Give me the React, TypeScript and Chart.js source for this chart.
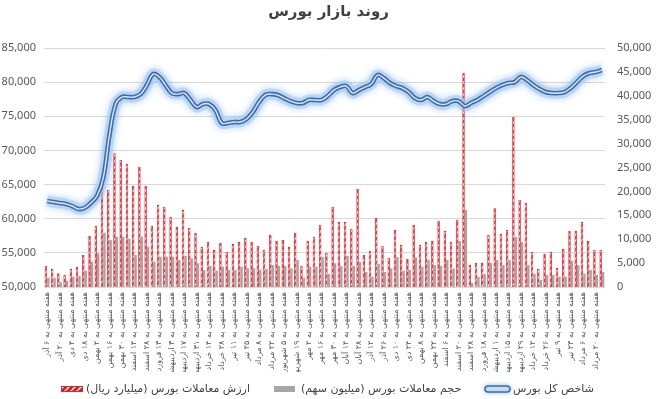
import React, { useEffect, useRef } from 'react';
import { Chart, registerables } from 'chart.js';

Chart.register(...registerables);

const W = 657;
const H = 399;

const chartTitle = 'روند بازار بورس';

// every other week is labelled on the axis
const weekLabels = [
  'هفته منتهی به ۶ آذر', 'هفته منتهی به ۲۰ آذر', 'هفته منتهی به ۴ دی', 'هفته منتهی به ۱۸ دی',
  'هفته منتهی به ۲ بهمن', 'هفته منتهی به ۱۶ بهمن', 'هفته منتهی به ۳۰ بهمن', 'هفته منتهی به ۱۴ اسفند',
  'هفته منتهی به ۲۸ اسفند', 'هفته منتهی به ۱۳ فروردین', 'هفته منتهی به ۳ اردیبهشت', 'هفته منتهی به ۱۷ اردیبهشت',
  'هفته منتهی به ۳۱ اردیبهشت', 'هفته منتهی به ۱۴ خرداد', 'هفته منتهی به ۲۸ خرداد', 'هفته منتهی به ۱۱ تیر',
  'هفته منتهی به ۲۵ تیر', 'هفته منتهی به ۸ مرداد', 'هفته منتهی به ۲۲ مرداد', 'هفته منتهی به ۵ شهریور',
  'هفته منتهی به ۱۹ شهریور', 'هفته منتهی به ۲ مهر', 'هفته منتهی به ۱۶ مهر', 'هفته منتهی به ۳۰ مهر',
  'هفته منتهی به ۱۴ آبان', 'هفته منتهی به ۲۸ آبان', 'هفته منتهی به ۱۲ آذر', 'هفته منتهی به ۲۶ آذر',
  'هفته منتهی به ۱۰ دی', 'هفته منتهی به ۲۴ دی', 'هفته منتهی به ۸ بهمن', 'هفته منتهی به ۲۲ بهمن',
  'هفته منتهی به ۶ اسفند', 'هفته منتهی به ۲۰ اسفند', 'هفته منتهی به ۲۸ اسفند', 'هفته منتهی به ۱۸ فروردین',
  'هفته منتهی به ۱ اردیبهشت', 'هفته منتهی به ۱۵ اردیبهشت', 'هفته منتهی به ۲۹ اردیبهشت', 'هفته منتهی به ۱۲ خرداد',
  'هفته منتهی به ۲۶ خرداد', 'هفته منتهی به ۹ تیر', 'هفته منتهی به ۲۳ تیر', 'هفته منتهی به ۶ مرداد',
  'هفته منتهی به ۲۰ مرداد',
];

// ارزش معاملات بورس (میلیارد ریال)
const tradeValue = [
  4390, 3770, 2870, 2510, 3770, 4180, 6690, 10670, 12760, 21550,
  20290, 27970, 26570, 25730, 21130, 25170, 21130, 12760, 17150, 16740,
  14640, 12550, 16110, 12340, 11300, 8370, 9410, 7740, 9200, 7320,
  9000, 9410, 10250, 9410, 8580, 7740, 10880, 9620, 9830, 8370,
  11300, 4390, 9620, 10460, 12970, 7110, 16740, 13600, 13600, 12130,
  20500, 6690, 7530, 14430, 8580, 6070, 11920, 8790, 5860, 12970,
  8790, 9410, 9620, 13810, 11720, 9410, 14020, 44770, 4600, 5020,
  5020, 10880, 16460, 11090, 11920, 35560, 18200, 17570, 7320, 3770,
  6900, 7320, 3970, 7950, 11720, 11720, 13600, 9620, 7740, 7740,
];

// حجم معاملات بورس (میلیون سهم)
const tradeVolume = [
  1950, 1950, 1000, 1320, 2160, 2300, 3410, 5300, 7050, 11360,
  9830, 10520, 10520, 10100, 6690, 10520, 8430, 5300, 6340, 6340,
  6340, 5650, 6550, 6000, 4950, 3560, 4390, 3410, 4250, 3560,
  3560, 4250, 3900, 3900, 3630, 3760, 4600, 4390, 4390, 3900,
  5650, 1950, 4250, 4250, 6280, 2720, 4950, 4390, 6490, 4390,
  5230, 3140, 2160, 4810, 3140, 3900, 6280, 3420, 3560, 6200,
  4250, 5650, 4600, 4390, 5650, 3900, 9620, 16110, 840, 2160,
  2720, 5020, 5650, 4600, 5650, 10460, 9410, 4600, 2720, 1460,
  2510, 2510, 2160, 2160, 5440, 4600, 2790, 3560, 2510, 3140,
];

// شاخص کل بورس
const indexValues = [
  62590, 62440, 62300, 62150, 61860, 61420, 61570, 62300, 63320, 65960,
  72250, 76790, 77820, 77820, 77820, 78250, 79570, 81180, 80740, 79570,
  78400, 78250, 78400, 77380, 76350, 76790, 76790, 75910, 74010, 74010,
  74160, 74160, 74600, 75620, 77090, 78110, 78250, 78110, 77670, 77230,
  76940, 76940, 77380, 77380, 77380, 77960, 78840, 79280, 79430, 78400,
  78840, 79280, 79720, 81040, 80600, 79870, 79430, 79130, 78550, 77670,
  77380, 77820, 77230, 76790, 76790, 77230, 77230, 76500, 76940, 77380,
  77960, 78550, 79130, 79570, 79870, 80010, 80740, 80300, 79570, 78990,
  78550, 78400, 78400, 78550, 79130, 80010, 80890, 81330, 81480, 81770,
];

const legendValue = 'ارزش معاملات بورس (میلیارد ریال)';
const legendVolume = 'حجم معاملات بورس (میلیون سهم)';
const legendIndex = 'شاخص کل بورس';

const categories = indexValues.map((_, i) => (i % 2 === 0 ? weekLabels[i / 2] : ''));

const RED = '#e8141c';
const GREY = '#a6a6a6';
const BLUE = '#3a6db5';
const ARABIC = '"DejaVu Sans", "Noto Sans", sans-serif';
const NUM = '"Noto Sans", "DejaVu Sans", sans-serif';

function makeHatch(ctx: CanvasRenderingContext2D): CanvasPattern | string {
  const c = document.createElement('canvas');
  c.width = 6;
  c.height = 6;
  const g = c.getContext('2d');
  if (!g) return RED;
  g.fillStyle = RED;
  g.fillRect(0, 0, 6, 6);
  g.strokeStyle = '#ffffff';
  g.lineWidth = 1.5;
  g.beginPath();
  for (let k = -6; k <= 12; k += 6) {
    g.moveTo(k, 6);
    g.lineTo(k + 6, 0);
  }
  g.stroke();
  return ctx.createPattern(c, 'repeat') || RED;
}

const glowPlugin = {
  id: 'glowPlugin',
  beforeDatasetDraw(chart: any, args: any) {
    const ds = chart.data.datasets[args.index];
    chart.ctx.save();
    if (ds && ds.glow) {
      chart.ctx.shadowColor = 'rgba(91,155,213,0.75)';
      chart.ctx.shadowBlur = 7;
    }
  },
  afterDatasetDraw(chart: any) {
    chart.ctx.restore();
  },
};

const legendPlugin = {
  id: 'customLegend',
  afterDraw(chart: any) {
    const ctx: CanvasRenderingContext2D = chart.ctx;
    const y = 389;
    ctx.save();
    ctx.font = `11px ${ARABIC}`;
    ctx.fillStyle = '#404040';
    ctx.textBaseline = 'middle';
    ctx.textAlign = 'left';

    // value (hatched)
    const hatch = makeHatch(ctx);
    ctx.fillStyle = hatch as any;
    ctx.fillRect(61, y - 3, 22, 6);
    ctx.strokeStyle = '#c0392b';
    ctx.lineWidth = 1;
    ctx.strokeRect(61.5, y - 2.5, 21, 5);
    ctx.fillStyle = '#404040';
    ctx.fillText(legendValue, 86, y);

    // volume (grey)
    ctx.fillStyle = GREY;
    ctx.fillRect(274, y - 3, 21, 6);
    ctx.fillStyle = '#404040';
    ctx.fillText(legendVolume, 301, y);

    // index (double blue line)
    ctx.save();
    ctx.shadowColor = 'rgba(91,155,213,0.6)';
    ctx.shadowBlur = 4;
    ctx.beginPath();
    const x0 = 485, x1 = 510, r = 3;
    ctx.moveTo(x0 + r, y - r);
    ctx.lineTo(x1 - r, y - r);
    ctx.arc(x1 - r, y, r, -Math.PI / 2, Math.PI / 2);
    ctx.lineTo(x0 + r, y + r);
    ctx.arc(x0 + r, y, r, Math.PI / 2, Math.PI * 1.5);
    ctx.closePath();
    ctx.fillStyle = '#dbe8f6';
    ctx.fill();
    ctx.strokeStyle = BLUE;
    ctx.lineWidth = 1.5;
    ctx.stroke();
    ctx.restore();
    ctx.fillStyle = '#404040';
    ctx.fillText(legendIndex, 513, y);
    ctx.restore();
  },
};

const fmt = (v: number) => Number(v).toLocaleString('en-US');

export default function App() {
  const ref = useRef<HTMLCanvasElement>(null);

  useEffect(() => {
    const canvas = ref.current;
    if (!canvas) return;
    const ctx = canvas.getContext('2d') as CanvasRenderingContext2D;
    const hatch = makeHatch(ctx);
    const line = { pointRadius: 0, pointHoverRadius: 0, tension: 0.4, yAxisID: 'y', fill: false };
    const chart = new Chart(canvas, {
      type: 'bar',
      data: {
        labels: categories,
        datasets: [
          { ...line, type: 'line', label: legendIndex + ' inner', data: indexValues, borderColor: '#dbe8f6', borderWidth: 1.4, order: 0 } as any,
          { ...line, type: 'line', label: legendIndex, data: indexValues, borderColor: BLUE, borderWidth: 4.6, order: 1 } as any,
          { ...line, type: 'line', label: legendIndex + ' glow', data: indexValues, borderColor: 'rgba(170,203,238,0.55)', borderWidth: 11, order: 2, glow: true } as any,
          {
            type: 'bar', label: legendValue, data: tradeValue, yAxisID: 'y1',
            backgroundColor: hatch as any, borderColor: RED, borderWidth: 0.8,
            order: 3, categoryPercentage: 0.78, barPercentage: 1,
          } as any,
          {
            type: 'bar', label: legendVolume, data: tradeVolume, yAxisID: 'y1',
            backgroundColor: GREY, borderWidth: 0,
            order: 4, categoryPercentage: 0.78, barPercentage: 1,
          } as any,
        ],
      },
      options: {
        responsive: false,
        animation: false,
        devicePixelRatio: 1,
        layout: { padding: { left: 0, right: 0, top: 0, bottom: 27 } },
        plugins: {
          legend: { display: false },
          tooltip: { enabled: false },
          title: {
            display: true,
            text: chartTitle,
            color: '#404040',
            font: { family: ARABIC, size: 15, weight: 'bold' },
            padding: { top: 3, bottom: 27 },
          },
        },
        scales: {
          x: {
            grid: { display: false, drawTicks: false },
            border: { display: false },
            ticks: {
              autoSkip: false,
              maxRotation: 90,
              minRotation: 90,
              padding: 5,
              color: '#595959',
              font: { family: ARABIC, size: 8 },
            },
            afterFit: (s: any) => { s.height = 85; },
          },
          y: {
            position: 'left',
            min: 50000,
            max: 85000,
            grid: { color: '#d9d9d9', drawTicks: false, lineWidth: 1 },
            border: { display: false },
            ticks: {
              stepSize: 5000,
              padding: 8,
              color: '#595959',
              font: { family: NUM, size: 11 },
              callback: (v: any) => fmt(v),
            },
            afterFit: (s: any) => { s.width = 44; },
          },
          y1: {
            position: 'right',
            min: 0,
            max: 50000,
            grid: { display: false, drawTicks: false },
            border: { display: false },
            ticks: {
              stepSize: 5000,
              padding: 12,
              color: '#595959',
              font: { family: NUM, size: 11 },
              callback: (v: any) => fmt(v),
            },
            afterFit: (s: any) => { s.width = 52; },
          },
        },
      } as any,
      plugins: [glowPlugin, legendPlugin],
    });
    return () => chart.destroy();
  }, []);

  return (
    <div style={{ position: 'fixed', left: 0, top: 0, width: W, height: H, background: '#ffffff' }}>
      <canvas ref={ref} width={W} height={H} style={{ width: W, height: H, display: 'block' }} />
    </div>
  );
}
